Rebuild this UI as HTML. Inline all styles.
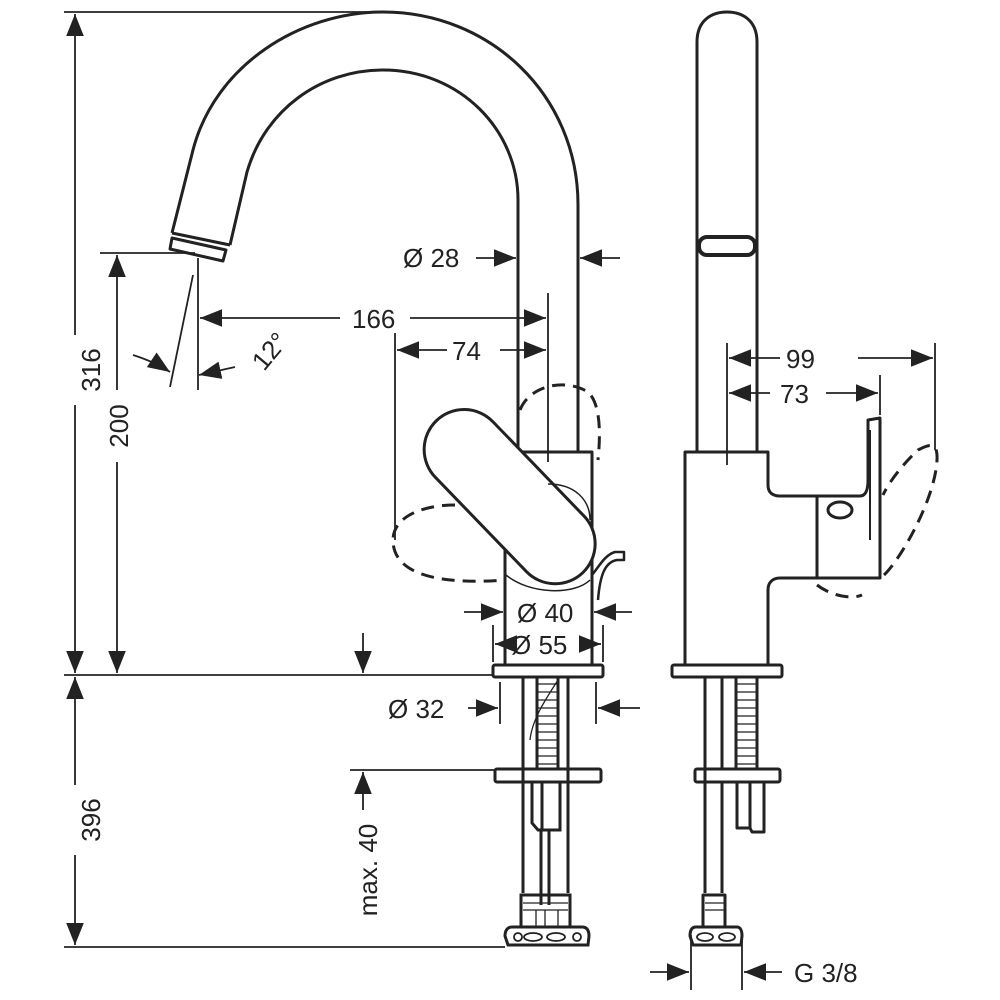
<!DOCTYPE html>
<html><head><meta charset="utf-8"><style>
html,body{margin:0;padding:0;background:#fff;}
svg{display:block}
text{font-family:"Liberation Sans",sans-serif;font-size:26px;fill:#222;}
</style></head><body>
<svg width="1000" height="1000" viewBox="0 0 1000 1000" xmlns="http://www.w3.org/2000/svg">
<defs>
<marker id="a" markerUnits="userSpaceOnUse" markerWidth="22" markerHeight="18" refX="20" refY="8" orient="auto-start-reverse" viewBox="0 0 20 16"><path d="M0,0 L20,8 L0,16 z" fill="#222"/></marker>
</defs>
<g stroke="#222" fill="none" stroke-width="1.8">
<line x1="75" y1="14" x2="75" y2="335" marker-start="url(#a)"/>
<line x1="75" y1="405" x2="75" y2="673" marker-end="url(#a)"/>
<line x1="75" y1="677" x2="75" y2="785" marker-start="url(#a)"/>
<line x1="75" y1="855" x2="75" y2="945" marker-end="url(#a)"/>
<line x1="64" y1="12" x2="383" y2="12"/>
<line x1="64" y1="675" x2="493" y2="675"/>
<line x1="64" y1="947" x2="505" y2="947"/>
<line x1="117" y1="255" x2="117" y2="390" marker-start="url(#a)"/>
<line x1="117" y1="462" x2="117" y2="673" marker-end="url(#a)"/>
<line x1="100" y1="253" x2="195" y2="253"/>
<line x1="363" y1="633" x2="363" y2="673" marker-end="url(#a)"/>
<line x1="198" y1="258" x2="198" y2="390"/>
<line x1="193" y1="275" x2="170" y2="387"/>
<path d="M133,355 Q155,362 170,372" marker-end="url(#a)"/>
<line x1="235" y1="367" x2="199" y2="375" marker-end="url(#a)"/>
<line x1="340" y1="318" x2="200" y2="318" marker-end="url(#a)"/>
<line x1="410" y1="318" x2="546" y2="318" marker-end="url(#a)"/>
<line x1="548" y1="293" x2="548" y2="462"/>
<line x1="447" y1="350" x2="397" y2="350" marker-end="url(#a)"/>
<line x1="500" y1="350" x2="546" y2="350" marker-end="url(#a)"/>
<line x1="395" y1="333" x2="395" y2="540"/>
<line x1="476" y1="258" x2="516" y2="258" marker-end="url(#a)"/>
<line x1="620" y1="258" x2="580" y2="258" marker-end="url(#a)"/>
<line x1="464" y1="612" x2="503" y2="612" marker-end="url(#a)"/>
<line x1="632" y1="612" x2="594" y2="612" marker-end="url(#a)"/>
<line x1="505" y1="644" x2="495" y2="644" marker-end="url(#a)"/>
<line x1="591" y1="644" x2="601" y2="644" marker-end="url(#a)"/>
<line x1="493" y1="625" x2="493" y2="662"/>
<line x1="603" y1="625" x2="603" y2="662"/>
<line x1="468" y1="708" x2="498" y2="708" marker-end="url(#a)"/>
<line x1="640" y1="708" x2="598" y2="708" marker-end="url(#a)"/>
<line x1="500" y1="682" x2="500" y2="724"/>
<line x1="596" y1="682" x2="596" y2="724"/>
<line x1="350" y1="770" x2="495" y2="770"/>
<line x1="363" y1="810" x2="363" y2="772" marker-end="url(#a)"/>
<line x1="727" y1="343" x2="727" y2="465"/>
<line x1="935" y1="343" x2="935" y2="450"/>
<line x1="880" y1="375" x2="880" y2="415"/>
<line x1="780" y1="358" x2="729" y2="358" marker-end="url(#a)"/>
<line x1="858" y1="358" x2="933" y2="358" marker-end="url(#a)"/>
<line x1="770" y1="393" x2="729" y2="393" marker-end="url(#a)"/>
<line x1="826" y1="393" x2="878" y2="393" marker-end="url(#a)"/>
<line x1="691" y1="935" x2="691" y2="990"/>
<line x1="742" y1="935" x2="742" y2="990"/>
<line x1="650" y1="972" x2="689" y2="972" marker-end="url(#a)"/>
<line x1="782" y1="972" x2="744" y2="972" marker-end="url(#a)"/>
</g>

<g stroke="#222" fill="none" stroke-width="3" stroke-linejoin="round">
<path d="M172,233 L193,150 C215,65 300,12 383,12 C490,12 578,95 578,205 L578,452"/>
<path d="M230,245 L247,172 C265,110 320,70 383,70 C460,70 518,130 518,200 L518,452"/>
<path d="M172,233 L230,245"/>
<path d="M172,238 L226,250 L223,261 L170,249 Z"/>
<path d="M517,452 L592,452 L592,665"/>
<path d="M505,548 L505,665"/>
<rect x="493" y="665" width="110" height="12" rx="2"/>
<rect x="404" y="457" width="211" height="80" rx="40" fill="#fff" transform="rotate(46 510 497)"/>
<path d="M592,575 C600,565 605,555 615,552 L624,552 L624,560 L617,560 C605,562 600,575 598,600" stroke-width="2.5"/>
</g>
<g stroke="#222" fill="none" stroke-width="1.5">
<path d="M548,484 C575,484 590,500 590,520"/>
<path d="M506,575 C530,595 575,595 590,580"/>
</g>
<g stroke="#222" fill="none" stroke-width="3" stroke-dasharray="13,8">
<path d="M520,410 C530,385 565,378 588,392 C602,405 600,440 598,460"/>
<path d="M455,505 C420,505 393,518 393,540 C393,575 440,585 505,580"/>
<path d="M884,575 C900,560 935,500 937,460 C938,440 928,445 918,450 C905,462 890,480 883,495"/>
<path d="M817,585 C830,595 850,600 862,595"/>
</g>
<g stroke="#222" fill="none" stroke-width="3">
<line x1="523" y1="677" x2="523" y2="893"/>
<line x1="568" y1="677" x2="568" y2="893"/>
<line x1="537" y1="677" x2="537" y2="768"/>
<line x1="558" y1="677" x2="558" y2="768"/>
<rect x="495" y="769" width="106" height="13" rx="2"/>
<path d="M532,783 L532,823 L538,830 L560,830 L560,783"/>
<line x1="542" y1="783" x2="542" y2="830"/>
<line x1="541" y1="830" x2="541" y2="905"/>
<line x1="549" y1="830" x2="549" y2="905"/>
<path d="M521,895 L570,895 L570,927 L521,927 Z"/>
<path d="M512,927 L582,927 C588,927 589,932 589,936 L588,945 L508,945 L505,936 C505,930 508,927 512,927 Z"/>
</g>
<g fill="#fff" stroke="#222" stroke-width="1.8">
<ellipse cx="518" cy="937" rx="4" ry="4"/><ellipse cx="533" cy="937" rx="9" ry="4"/><ellipse cx="556" cy="937" rx="9" ry="4"/><ellipse cx="577" cy="937" rx="4" ry="4"/>
</g>
<g stroke="#222" stroke-width="1.3">
<path d="M538,684 H557 M538,692 H557 M538,700 H557 M538,708 H557 M538,716 H557 M538,724 H557 M538,732 H557 M538,740 H557 M538,748 H557 M538,756 H557 M538,764 H557"/>
<path d="M530,740 C532,720 545,700 558,680" fill="none"/>
<path d="M523,903 H568 M523,910 H568 M536,910 V927 M545,910 V927 M558,910 V927"/>
</g>
<g stroke="#222" fill="none" stroke-width="3" stroke-linejoin="round">
<path d="M697,452 L697,42 C697,20 712,12 727,12 C742,12 757,20 757,42 L757,452"/>
<rect x="699" y="237" width="56" height="18" rx="8" stroke-width="4"/>
<path d="M685,452 L768,452 L768,485 C768,492 772,496 780,496 L817,496 L817,578 L780,578 C772,578 768,583 768,590 L768,665 L685,665 Z"/>
<path d="M817,496 L860,496 C866,496 868,490 868,480 L868,420 L880,418 L880,578 L817,578"/>
<ellipse cx="840" cy="510" rx="12" ry="8"/>
<line x1="870" y1="430" x2="870" y2="540" stroke-width="2"/>
<rect x="672" y="665" width="110" height="12" rx="2"/>
<line x1="705" y1="677" x2="705" y2="893"/>
<line x1="722" y1="677" x2="722" y2="768"/>
<line x1="722" y1="783" x2="722" y2="893"/>
<line x1="736" y1="677" x2="736" y2="768"/>
<line x1="757" y1="677" x2="757" y2="768"/>
<rect x="695" y="769" width="85" height="13" rx="2"/>
<path d="M737,783 L737,828 L750,828 L752,832 L764,832 L764,783"/>
<line x1="750" y1="783" x2="750" y2="828"/>
<path d="M703,895 L725,895 L725,927 L703,927 Z"/>
<path d="M696,927 L737,927 C741,927 742,932 742,936 L741,945 L693,945 L690,936 C690,930 692,927 696,927 Z"/>
</g>
<g fill="#fff" stroke="#222" stroke-width="1.8">
<ellipse cx="705" cy="937" rx="8" ry="4"/><ellipse cx="727" cy="937" rx="8" ry="4"/>
</g>
<g stroke="#222" stroke-width="1.3">
<path d="M737,684 H756 M737,692 H756 M737,700 H756 M737,708 H756 M737,716 H756 M737,724 H756 M737,732 H756 M737,740 H756 M737,748 H756 M737,756 H756 M737,764 H756"/>
<path d="M705,903 H725 M705,910 H725"/>
</g>
<text x="403" y="267">Ø 28</text>
<text x="352" y="328">166</text>
<text x="452" y="360">74</text>
<text x="517" y="622">Ø 40</text>
<text x="511" y="654">Ø 55</text>
<text x="388" y="718">Ø 32</text>
<text x="786" y="368">99</text>
<text x="780" y="403">73</text>
<text x="794" y="982">G 3/8</text>
<text transform="translate(264,372) rotate(-50)">12°</text>
<text transform="translate(100,370) rotate(-90)" text-anchor="middle">316</text>
<text transform="translate(100,820) rotate(-90)" text-anchor="middle">396</text>
<text transform="translate(128,426) rotate(-90)" text-anchor="middle">200</text>
<text transform="translate(377,870) rotate(-90)" text-anchor="middle">max. 40</text>
</svg>
</body></html>
